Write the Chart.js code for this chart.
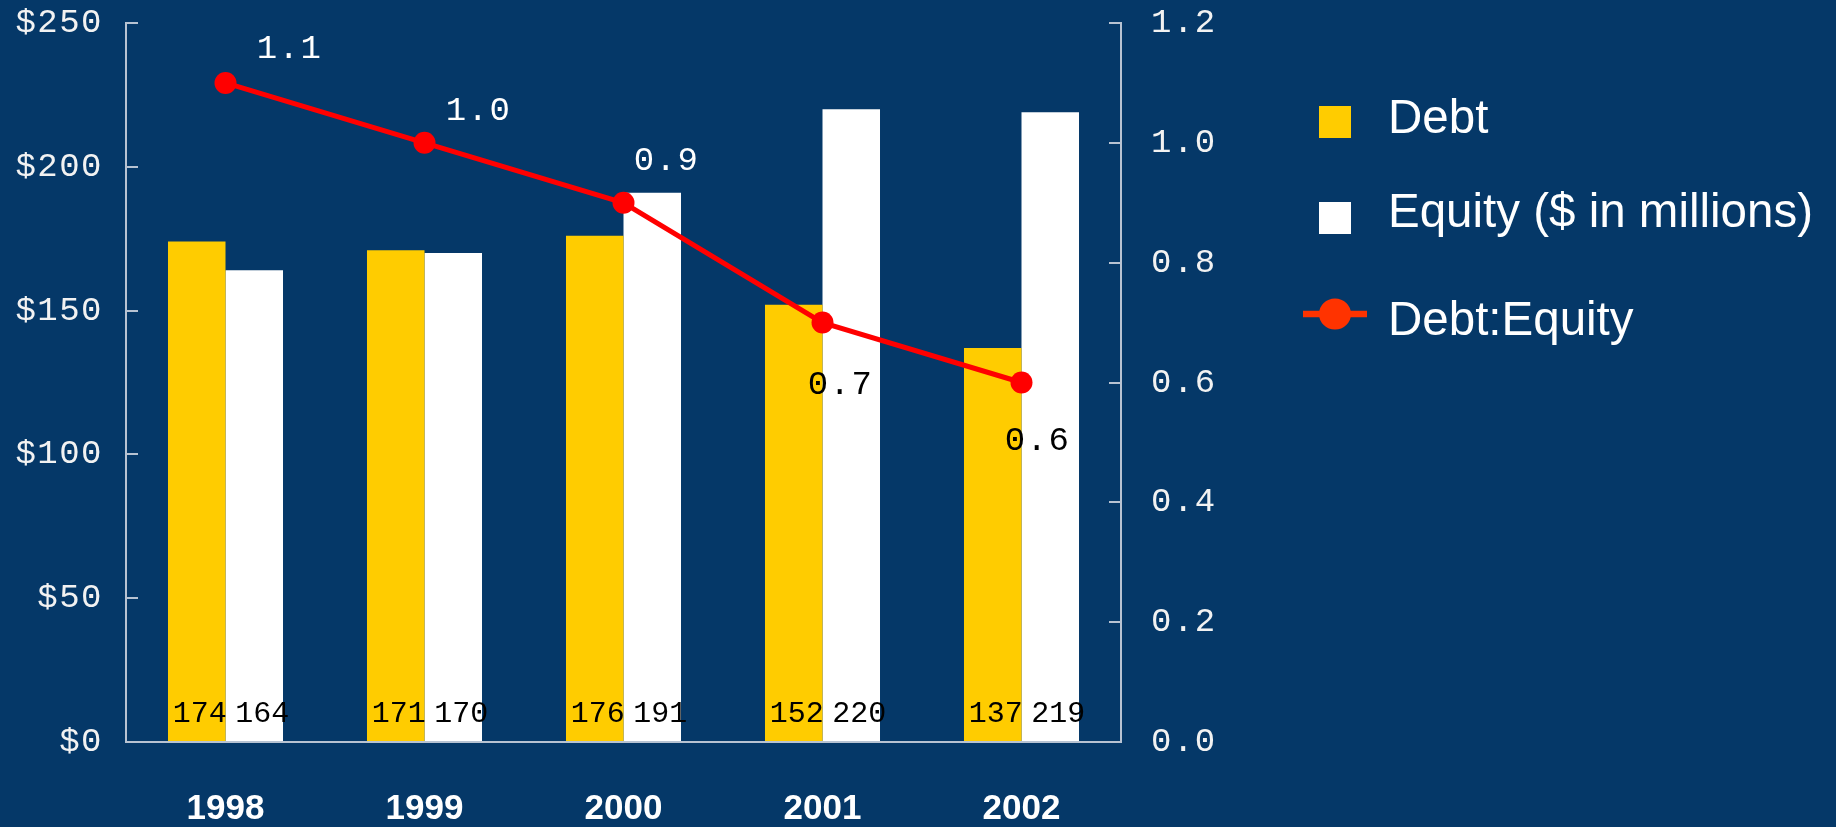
<!DOCTYPE html>
<html><head><meta charset="utf-8">
<script src="https://cdn.jsdelivr.net/npm/chart.js@4.4.1/dist/chart.umd.min.js"></script>
<style>html,body{margin:0;padding:0;background:#053868;overflow:hidden}#wrap{width:1836px;height:827px;}</style>
</head><body><div id="wrap"><canvas id="c" width="1836" height="827"></canvas></div>
<script>
const categories = ['1998', '1999', '2000', '2001', '2002'];
const debt = [174, 171, 176, 152, 137];
const equity = [164, 170, 191, 220, 219];
const ratio = [1.1, 1.0, 0.9, 0.7, 0.6];
const ratioLabels = ['1.1', '1.0', '0.9', '0.7', '0.6'];
const seriesNames = ['Debt', 'Equity ($ in millions)', 'Debt:Equity'];
const leftTickLabels = ['$0', '$50', '$100', '$150', '$200', '$250'];
const rightTickLabels = ['0.0', '0.2', '0.4', '0.6', '0.8', '1.0', '1.2'];

const BG = '#053868';
const AXIS = '#B8C3D2';
const MONO = '"Liberation Mono", "Courier New", monospace';
const SANS = '"Liberation Sans", Arial, sans-serif';

// label placement (style, not data)
const ratioLabelOffset = [[64, -34], [54, -32], [43, -42], [18, 62], [16, 58]];
const ratioLabelColor = ['#FFFFFF', '#FFFFFF', '#FFFFFF', '#000000', '#000000'];

const bgPlugin = {
  id: 'bg',
  beforeDraw(chart) {
    const ctx = chart.ctx;
    ctx.save();
    ctx.fillStyle = BG;
    ctx.fillRect(0, 0, chart.width, chart.height);
    ctx.restore();
    ctx.letterSpacing = '1.5px';   // y-axis tick labels
  },
  beforeDatasetsDraw(chart) {
    chart.ctx.letterSpacing = '0px';
  }
};

const labelPlugin = {
  id: 'vlabels',
  afterDatasetsDraw(chart) {
    const ctx = chart.ctx;
    const y0 = chart.scales.y.getPixelForValue(0);
    ctx.save();
    ctx.textAlign = 'center';
    ctx.textBaseline = 'middle';
    ctx.font = '30px ' + MONO;
    ctx.fillStyle = '#000000';
    [0, 1].forEach((di, k) => {
      const meta = chart.getDatasetMeta(di);
      const vals = chart.data.datasets[di].data;
      meta.data.forEach((bar, i) => {
        ctx.fillText(String(vals[i]), bar.x + (k === 0 ? 3 : 8), y0 - 28);
      });
    });
    ctx.font = '34px ' + MONO;
    ctx.letterSpacing = '1.5px';
    const lm = chart.getDatasetMeta(2);
    lm.data.forEach((pt, i) => {
      ctx.fillStyle = ratioLabelColor[i];
      ctx.fillText(ratioLabels[i], pt.x + ratioLabelOffset[i][0], pt.y + ratioLabelOffset[i][1]);
    });
    ctx.restore();
    ctx.letterSpacing = '0px';
  }
};

const legendPlugin = {
  id: 'customLegend',
  afterDraw(chart) {
    const ctx = chart.ctx;
    const ds = chart.data.datasets;
    ctx.save();
    ctx.letterSpacing = '0px';
    ctx.font = '47.5px ' + SANS;
    ctx.fillStyle = '#FFFFFF';
    ctx.textAlign = 'left';
    ctx.textBaseline = 'alphabetic';
    const rows = [{cy: 122, base: 133}, {cy: 218, base: 227}, {cy: 314, base: 335}];
    const cx = 1335;
    ds.forEach((d, i) => {
      const r = rows[i];
      if (d.type === 'line') {
        ctx.strokeStyle = '#FF3300';
        ctx.lineWidth = 6.5;
        ctx.beginPath();
        ctx.moveTo(1303, r.cy); ctx.lineTo(1367, r.cy);
        ctx.stroke();
        ctx.fillStyle = '#FF3300';
        ctx.beginPath();
        ctx.ellipse(cx, r.cy, 16, 15.5, 0, 0, Math.PI * 2);
        ctx.fill();
      } else {
        ctx.fillStyle = d.backgroundColor;
        ctx.fillRect(cx - 16, r.cy - 16, 32, 32);
      }
      ctx.fillStyle = '#FFFFFF';
      ctx.fillText(d.label, 1388, r.base);
    });
    ctx.restore();
  }
};

function fixVertical(width) {
  return function (s) { s.width = width; s.paddingTop = 0; s.paddingBottom = 0; };
}

new Chart(document.getElementById('c'), {
  data: {
    labels: categories,
    datasets: [
      {type: 'bar', label: seriesNames[0], data: debt, backgroundColor: '#FFCC00', yAxisID: 'y', order: 1,
       categoryPercentage: 0.578, barPercentage: 1.0, borderWidth: 0},
      {type: 'bar', label: seriesNames[1], data: equity, backgroundColor: '#FFFFFF', yAxisID: 'y', order: 1,
       categoryPercentage: 0.578, barPercentage: 1.0, borderWidth: 0},
      {type: 'line', label: seriesNames[2], data: ratio, yAxisID: 'y1', order: 0,
       borderColor: '#FF0000', borderWidth: 5, tension: 0,
       pointRadius: 11, pointBackgroundColor: '#FF0000', pointBorderWidth: 0, pointHoverRadius: 11}
    ]
  },
  options: {
    responsive: false,
    animation: false,
    devicePixelRatio: 1,
    layout: {padding: {left: 0, right: 595, top: 23, bottom: 0}},
    plugins: {legend: {display: false}, tooltip: {enabled: false}},
    scales: {
      x: {
        offset: true,
        grid: {display: true, drawOnChartArea: false, drawTicks: false, color: AXIS},
        border: {display: true, color: AXIS, width: 2, z: 1},
        ticks: {z: 1, color: '#FFFFFF', font: {family: SANS, size: 35, weight: 'bold'}, padding: 46, maxRotation: 0},
        afterFit(s) { s.height = 85; s.paddingLeft = 0; s.paddingRight = 0; }
      },
      y: {
        position: 'left', min: 0, max: 250,
        grid: {display: true, drawOnChartArea: false, drawTicks: true, tickLength: -12, color: AXIS, lineWidth: 2},
        border: {display: true, color: AXIS, width: 2},
        ticks: {stepSize: 50, color: '#F2F2F2', font: {family: MONO, size: 34}, padding: 35,
                callback: (v, i) => leftTickLabels[i]},
        afterFit: fixVertical(126)
      },
      y1: {
        position: 'right', min: 0, max: 1.2,
        grid: {display: true, drawOnChartArea: false, drawTicks: true, tickLength: -12, color: AXIS, lineWidth: 2},
        border: {display: true, color: AXIS, width: 2},
        ticks: {stepSize: 0.2, color: '#F2F2F2', font: {family: MONO, size: 34}, padding: 42,
                callback: (v, i) => rightTickLabels[i]},
        afterFit: fixVertical(120)
      }
    }
  },
  plugins: [bgPlugin, labelPlugin, legendPlugin]
});
</script>
</body></html>
